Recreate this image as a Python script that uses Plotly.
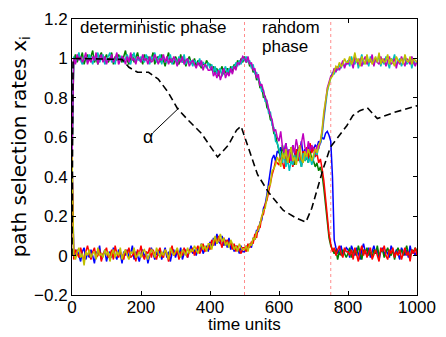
import plotly.graph_objects as go

# time step of the recorded trajectories (time units)
STEP = 5

# path selection rates x_i, in percent, sampled every 5 time units (t = 0..1000)
blue = [
    50, 2, -1, 3, 0, -3, 2, 4, -2, 1,
    -1, 3, 0, -4, 2, 1, 5, -2, 0, 3,
    -3, 1, 2, -1, 4, 0, -2, 3, 1, -4,
    2, 0, 3, -1, 1, 5, -2, 2, 0, -3,
    1, 3, -1, 2, -4, 0, 4, 1, -2, 2,
    0, 3, -2, 1, 4, -1, 2, -3, 1, 3,
    -1, 2, 0, 4, -2, 1, 3, -1, 2, 5,
    1, 3, 0, 4, 2, 6, 1, 3, 5, 2,
    7, 4, 9, 5, 11, 7, 6, 10, 5, 8,
    4, 9, 3, 6, 2, 5, 4, 1, 5, 2,
    2, 5, 3, 6, 4, 9, 8, 13, 12, 17,
    18, 24, 26, 31, 38, 45, 49, 51, 48, 53,
    52, 55, 49, 53, 57, 51, 54, 50, 56, 52,
    49, 55, 53, 58, 51, 54, 50, 56, 53, 55,
    54, 56, 55, 58, 57, 60, 59, 62, 63, 61,
    58, 40, 8, 4, 1, 3, 5, 0, 2, 4,
    3, -1, 5, 2, 0, 4, 1, -2, 3, 6,
    2, 0, 4, -1, 2, 5, 1, 3, -2, 2,
    4, 0, 3, 1, -1, 5, 2, 0, 3, 1,
    -2, 4, 2, 0, 3, -1, 5, 1, 2, 0,
    3,
]
green = [
    50, 99, 102, 98, 101, 100, 103, 97, 100, 102,
    99, 101, 104, 98, 100, 97, 101, 103, 99, 100,
    102, 98, 100, 103, 97, 101, 99, 102, 100, 98,
    101, 104, 99, 97, 100, 102, 98, 101, 103, 99,
    100, 97, 102, 99, 101, 98, 100, 103, 97, 100,
    101, 98, 102, 99, 96, 100, 103, 98, 100, 97,
    101, 99, 97, 102, 98, 100, 96, 99, 101, 98,
    97, 100, 96, 99, 97, 95, 98, 96, 99, 97,
    97, 94, 96, 92, 95, 91, 94, 96, 92, 93,
    95, 92, 96, 93, 97, 95, 99, 97, 100, 98,
    101, 98, 100, 96, 97, 93, 94, 89, 90, 85,
    86, 80, 81, 75, 74, 69, 68, 62, 61, 56,
    53, 49, 56, 51, 47, 52, 48, 55, 50, 46,
    51, 54, 49, 45, 52, 48, 50, 47, 53, 49,
    48, 45, 47, 43, 45, 41, 34, 25, 16, 9,
    5, 3, 1, 3, -2, 2, 0, 3, 1, -1,
    1, 4, -1, 2, 3, 0, 5, 2, -2, 3,
    1, 4, 0, 2, -1, 3, 1, 5, 0, 2,
    3, -1, 2, 4, 1, 0, 3, -2, 2, 4,
    1, 3, 0, 2, 5, 1, -1, 3, 2, 4,
    2,
]
red = [
    50, -2, 3, 1, -1, 4, 0, -3, 2, 5,
    1, -2, 2, 4, -1, 0, 3, -3, 1, 2,
    4, -1, 0, 3, -2, 5, 1, -1, 2, 0,
    -2, 3, 1, 4, -1, 0, 2, -3, 3, 1,
    5, 0, -2, 2, 1, 4, -1, 3, 0, -2,
    2, 4, 0, -1, 3, 1, -3, 2, 5, 0,
    1, 3, -2, 2, 0, 4, 1, -1, 3, 2,
    4, 0, 3, 5, 1, 3, 6, 2, 4, 5,
    3, 8, 5, 9, 6, 10, 7, 4, 9, 6,
    8, 5, 7, 3, 6, 2, 5, 3, 1, 4,
    4, 2, 6, 4, 7, 6, 11, 9, 15, 14,
    20, 21, 26, 28, 33, 37, 41, 44, 48, 47,
    46, 51, 48, 44, 50, 53, 47, 52, 45, 49,
    54, 48, 51, 46, 53, 50, 55, 49, 57, 52,
    55, 50, 52, 47, 49, 44, 38, 29, 19, 11,
    6, 2, 4, 0, 3, 5, 1, -1, 4, 2,
    2, 0, 3, -2, 4, 1, -3, 2, 5, 0,
    3, -1, 2, 4, -2, 1, 3, 0, -3, 4,
    2, 5, 0, -2, 3, 1, 4, -1, 2, 0,
    3, -2, 1, 4, 0, 2, -3, 3, 1, 4,
    0,
]
cyan = [
    50, 101, 98, 100, 103, 99, 97, 101, 100, 98,
    102, 100, 97, 101, 99, 103, 98, 100, 102, 97,
    99, 101, 103, 98, 100, 97, 102, 99, 101, 100,
    98, 100, 102, 99, 97, 101, 103, 98, 100, 99,
    101, 99, 98, 102, 100, 97, 101, 99, 103, 98,
    100, 102, 97, 101, 99, 98, 100, 102, 97, 99,
    100, 97, 101, 99, 98, 102, 97, 100, 98, 99,
    96, 99, 98, 97, 100, 96, 98, 97, 95, 98,
    95, 97, 93, 96, 92, 94, 95, 91, 94, 96,
    92, 95, 93, 96, 95, 98, 96, 99, 97, 100,
    99, 101, 98, 99, 95, 97, 92, 93, 89, 88,
    83, 84, 78, 79, 72, 73, 66, 65, 58, 57,
    54, 50, 47, 52, 45, 49, 43, 48, 46, 51,
    47, 53, 49, 45, 52, 48, 51, 47, 50, 46,
    49, 53, 51, 55, 57, 61, 69, 77, 83, 87,
    90, 93, 92, 95, 94, 97, 95, 98, 96, 97,
    99, 96, 101, 98, 97, 100, 95, 99, 102, 97,
    98, 100, 96, 101, 99, 97, 100, 98, 102, 96,
    99, 97, 101, 98, 95, 100, 99, 102, 97, 98,
    100, 96, 99, 101, 97, 98, 100, 95, 99, 97,
    98,
]
magenta = [
    50, 100, 97, 102, 99, 101, 98, 100, 103, 97,
    100, 98, 101, 99, 103, 97, 100, 102, 98, 101,
    97, 100, 99, 102, 98, 100, 103, 97, 99, 101,
    100, 97, 101, 98, 103, 99, 100, 97, 101, 100,
    98, 102, 99, 100, 97, 101, 98, 99, 102, 100,
    97, 100, 99, 102, 98, 101, 97, 100, 98, 101,
    99, 96, 100, 98, 101, 97, 99, 100, 96, 98,
    99, 97, 95, 98, 96, 99, 94, 97, 96, 94,
    94, 96, 91, 93, 90, 94, 89, 92, 95, 90,
    93, 91, 95, 92, 96, 94, 98, 97, 99, 101,
    100, 98, 101, 97, 98, 94, 95, 90, 92, 86,
    87, 83, 80, 78, 74, 71, 69, 63, 64, 60,
    58, 63, 55, 52, 57, 50, 54, 48, 56, 52,
    59, 54, 50, 57, 62, 55, 51, 58, 53, 56,
    54, 52, 56, 54, 58, 63, 71, 78, 85, 88,
    91, 92, 95, 93, 96, 94, 97, 99, 95, 98,
    97, 100, 98, 95, 101, 99, 97, 100, 96, 99,
    101, 97, 99, 98, 102, 96, 100, 98, 97, 101,
    98, 100, 96, 99, 101, 97, 98, 100, 95, 99,
    97, 101, 98, 96, 100, 99, 97, 101, 98, 96,
    99,
]
yellow = [
    50, 1, -2, 2, 4, -1, 1, -5, 2, 0,
    3, -1, 1, 2, -2, 4, 0, 1, -1, 3,
    0, 2, -3, 1, 3, -1, 2, 0, 4, -2,
    1, 3, 0, -2, 2, 1, 4, -1, 0, 2,
    -1, 2, 3, 0, -2, 1, 3, 2, -1, 4,
    1, -1, 2, 0, 3, 1, -2, 4, 2, 0,
    2, 4, 1, -1, 3, 2, 0, 4, 1, 3,
    2, 5, 3, 1, 4, 6, 3, 5, 2, 6,
    6, 3, 7, 10, 6, 8, 11, 7, 9, 5,
    7, 4, 8, 6, 3, 5, 2, 6, 4, 3,
    3, 5, 2, 6, 5, 9, 8, 12, 13, 16,
    19, 23, 24, 30, 35, 36, 43, 44, 46, 50,
    48, 45, 52, 49, 54, 47, 51, 55, 48, 50,
    46, 52, 56, 49, 47, 53, 50, 54, 51, 48,
    51, 54, 52, 56, 58, 64, 73, 80, 84, 87,
    90, 91, 94, 96, 95, 98, 96, 97, 100, 98,
    98, 101, 97, 99, 103, 98, 100, 96, 101, 99,
    97, 102, 98, 100, 97, 99, 101, 98, 103, 97,
    100, 98, 99, 102, 97, 100, 98, 96, 101, 99,
    98, 100, 97, 102, 99, 98, 101, 97, 100, 99,
    98,
]

# alpha (dashed black curve)
alpha_t = [0, 3, 145, 165, 190, 222, 250, 278, 306, 335, 375, 422, 453, 477, 490,
           507, 538, 570, 612, 650, 678, 695, 728, 749, 770, 797, 814, 834, 856,
           885, 932, 980, 1000]
alpha_v = [0.0, 1.0, 0.995, 0.955, 0.93, 0.93, 0.895, 0.83, 0.745, 0.69, 0.62, 0.50,
           0.56, 0.636, 0.656, 0.57, 0.41, 0.32, 0.23, 0.19, 0.17, 0.24, 0.44, 0.55,
           0.60, 0.66, 0.71, 0.735, 0.75, 0.695, 0.725, 0.75, 0.76]

x_ticks = [0, 200, 400, 600, 800, 1000]
y_ticks = [-0.2, 0, 0.2, 0.4, 0.6, 0.8, 1.0, 1.2]
y_ticktext = ["\u22120.2", "0", "0.2", "0.4", "0.6", "0.8", "1", "1.2"]
phase_bounds = [500, 750]

series = [
    ("x1", blue, "#0000ff"),
    ("x2", green, "#008000"),
    ("x3", red, "#ff0000"),
    ("x4", cyan, "#00bfbf"),
    ("x5", magenta, "#bf00bf"),
    ("x6", yellow, "#bfbf00"),
]

FONT = "Liberation Sans, Arial, sans-serif"
FS = 17

fig = go.Figure()
for name, vals, col in series:
    fig.add_trace(go.Scatter(
        x=[STEP * i for i in range(len(vals))],
        y=[v / 100 for v in vals],
        mode="lines", name=name,
        line=dict(color=col, width=1.5),
        hoverinfo="skip", showlegend=False,
    ))

fig.add_trace(go.Scatter(
    x=alpha_t, y=alpha_v, mode="lines", name="alpha",
    line=dict(color="black", width=1.6, dash="7px,4px"),
    showlegend=False,
))

for xb in phase_bounds:
    fig.add_shape(type="line", xref="x", yref="paper", x0=xb, x1=xb, y0=0, y1=1,
                  line=dict(color="#ff8c8c", width=1, dash="dot"), layer="below")

# pointer line for alpha
fig.add_shape(type="line", xref="x", yref="y", x0=234, y0=0.622, x1=310, y1=0.749,
              line=dict(color="black", width=1))

fig.add_annotation(x=17, y=1.158, xref="x", yref="y", text="deterministic phase",
                   showarrow=False, xanchor="left", yanchor="middle",
                   font=dict(family=FONT, size=FS, color="black"))
fig.add_annotation(x=546, y=1.156, xref="x", yref="y", text="random",
                   showarrow=False, xanchor="left", yanchor="middle",
                   font=dict(family=FONT, size=FS, color="black"))
fig.add_annotation(x=546, y=1.058, xref="x", yref="y", text="phase",
                   showarrow=False, xanchor="left", yanchor="middle",
                   font=dict(family=FONT, size=FS, color="black"))
fig.add_annotation(x=220, y=0.60, xref="x", yref="y", text="\u03b1",
                   showarrow=False, xanchor="center", yanchor="middle",
                   font=dict(family=FONT, size=FS + 1, color="black"))

# axis titles
fig.add_annotation(x=0.5, y=-0.108, xref="paper", yref="paper", text="time units",
                   showarrow=False, xanchor="center", yanchor="middle",
                   font=dict(family=FONT, size=FS, color="black"))
fig.add_annotation(x=-0.152, y=0.537, xref="paper", yref="paper",
                   text="path selection rates x<sub>i</sub>", textangle=-90,
                   showarrow=False, xanchor="center", yanchor="middle",
                   font=dict(family="DejaVu Sans", size=20, color="black"))

axis_common = dict(
    ticks="inside", ticklen=4, tickcolor="black", tickwidth=1,
    mirror="allticks", showline=True, linecolor="black", linewidth=1,
    showgrid=False, zeroline=False,
    tickfont=dict(family=FONT, size=FS, color="black"),
)
fig.update_xaxes(range=[0, 1000], tickvals=x_ticks, ticklabeloverflow="allow",
                 ticklabelstandoff=-3, **axis_common)
fig.update_yaxes(range=[-0.2, 1.2], tickvals=y_ticks, ticktext=y_ticktext,
                 ticklabeloverflow="allow", **axis_common)

fig.update_layout(
    width=446, height=337,
    margin=dict(l=72, r=19, t=10, b=42),
    paper_bgcolor="white", plot_bgcolor="white",
    showlegend=False,
)

fig.write_html("out.html")
